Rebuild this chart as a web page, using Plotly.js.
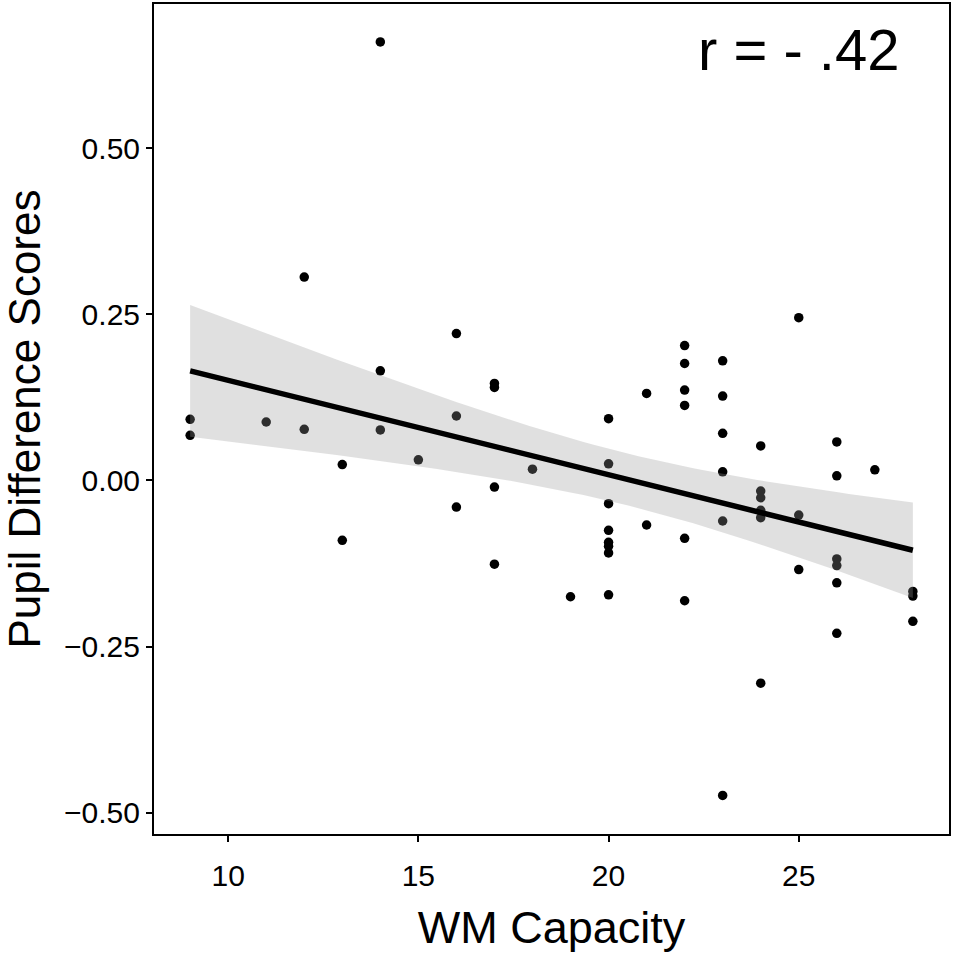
<!DOCTYPE html>
<html>
<head>
<meta charset="utf-8">
<script src="https://cdn.plot.ly/plotly-3.0.1.min.js"></script>
<style>
  html, body { margin: 0; padding: 0; background: #fff; }
  #chart { width: 954px; height: 958px; }
</style>
</head>
<body>
<div id="chart"></div>
<script>

// Working memory capacity of each participant
const wmCapacity = [
    9, 9,
    11,
    12, 12,
    13, 13,
    14, 14, 14,
    15,
    16, 16, 16,
    17, 17, 17, 17,
    18,
    19,
    20, 20, 20, 20, 20, 20, 20, 20,
    21, 21,
    22, 22, 22, 22, 22, 22,
    23, 23, 23, 23, 23, 23,
    24, 24, 24, 24, 24, 24,
    25, 25, 25,
    26, 26, 26, 26, 26, 26,
    27,
    28, 28, 28
];

// Pupil difference score of each participant (same order)
const pupilDiff = [
    0.092, 0.068,
    0.088,
    0.306, 0.077,
    0.024, -0.090,
    0.660, 0.165, 0.076,
    0.031,
    0.221, 0.097, -0.040,
    0.146, 0.140, -0.010, -0.126,
    0.017,
    -0.175,
    0.093, 0.025, -0.035, -0.075, -0.093, -0.099, -0.109, -0.172,
    0.131, -0.067,
    0.203, 0.176, 0.136, 0.113, -0.087, -0.181,
    0.180, 0.127, 0.071, 0.013, -0.061, -0.474,
    0.052, -0.016, -0.026, -0.045, -0.056, -0.305,
    0.245, -0.052, -0.134,
    0.058, 0.007, -0.118, -0.128, -0.154, -0.230,
    0.016,
    -0.167, -0.174, -0.212
];

const xTicks = [10, 15, 20, 25];
const yTicks = [-0.50, -0.25, 0.00, 0.25, 0.50];
const yTickText = ["\u22120.50", "\u22120.25", "0.00", "0.25", "0.50"];

const T_CRIT = 2.001;   // t(0.975, df = 59)
const N_FIT = 80;

// Least squares fit + 95% confidence band, like geom_smooth(method = "lm")
const n = wmCapacity.length;
let mx = 0, my = 0;
for (let i = 0; i < n; i++) { mx += wmCapacity[i]; my += pupilDiff[i]; }
mx /= n; my /= n;

let sxx = 0, sxy = 0;
for (let i = 0; i < n; i++) {
    sxx += (wmCapacity[i] - mx) * (wmCapacity[i] - mx);
    sxy += (wmCapacity[i] - mx) * (pupilDiff[i] - my);
}
const slope = sxy / sxx;
const intercept = my - slope * mx;

let sse = 0;
for (let i = 0; i < n; i++) {
    const r = pupilDiff[i] - (intercept + slope * wmCapacity[i]);
    sse += r * r;
}
const sigma = Math.sqrt(sse / (n - 2));

const xMin = Math.min(...wmCapacity);
const xMax = Math.max(...wmCapacity);
var fitX = [], fitY = [], lowY = [], highY = [];
for (let k = 0; k < N_FIT; k++) {
    const x0 = xMin + (xMax - xMin) * k / (N_FIT - 1);
    const y0 = intercept + slope * x0;
    const se = sigma * Math.sqrt(1 / n + (x0 - mx) * (x0 - mx) / sxx);
    fitX.push(x0);
    fitY.push(y0);
    lowY.push(y0 - T_CRIT * se);
    highY.push(y0 + T_CRIT * se);
}

const FONT = '"Liberation Sans", Arial, sans-serif';

var points = {
    x: wmCapacity,
    y: pupilDiff,
    type: 'scatter',
    mode: 'markers',
    marker: { color: '#000000', size: 9.5, line: { width: 0 } },
    hoverinfo: 'x+y'
};

var bandLow = {
    x: fitX,
    y: lowY,
    type: 'scatter',
    mode: 'lines',
    line: { width: 0, color: 'rgba(0,0,0,0)' },
    hoverinfo: 'skip'
};

var bandHigh = {
    x: fitX,
    y: highY,
    type: 'scatter',
    mode: 'lines',
    fill: 'tonexty',
    fillcolor: 'rgba(153,153,153,0.3)',
    line: { width: 0, color: 'rgba(0,0,0,0)' },
    hoverinfo: 'skip'
};

var fitLine = {
    x: fitX,
    y: fitY,
    type: 'scatter',
    mode: 'lines',
    line: { color: '#000000', width: 5.5 },
    hoverinfo: 'skip'
};

var layout = {
    width: 954,
    height: 958,
    showlegend: false,
    paper_bgcolor: '#ffffff',
    plot_bgcolor: '#ffffff',
    margin: { l: 154, r: 5, t: 4, b: 124 },
    font: { family: FONT, color: '#000000' },
    xaxis: {
        range: [8.05, 28.95],
        tickvals: xTicks,
        ticks: 'outside',
        ticklen: 6,
        tickwidth: 2,
        tickcolor: '#000000',
        ticklabelstandoff: 8,
        tickfont: { family: FONT, size: 30, color: '#000000' },
        showgrid: false,
        zeroline: false,
        showline: true,
        mirror: true,
        linecolor: '#000000',
        linewidth: 2,
        title: { text: 'WM Capacity', font: { family: FONT, size: 45, color: '#000000' }, standoff: 20 }
    },
    yaxis: {
        range: [-0.532, 0.717],
        tickvals: yTicks,
        ticktext: yTickText,
        ticks: 'outside',
        ticklen: 6,
        tickwidth: 2,
        tickcolor: '#000000',
        tickfont: { family: FONT, size: 30, color: '#000000' },
        showgrid: false,
        zeroline: false,
        showline: true,
        mirror: true,
        linecolor: '#000000',
        linewidth: 2,
        title: { text: 'Pupil Difference Scores', font: { family: FONT, size: 44, color: '#000000' }, standoff: 20 }
    },
    annotations: [{
        x: 25,
        y: 0.648,
        xref: 'x',
        yref: 'y',
        text: 'r = - .42',
        showarrow: false,
        font: { family: FONT, size: 58, color: '#000000' }
    }]
};

Plotly.newPlot('chart', [points, bandLow, bandHigh, fitLine], layout, { displayModeBar: false, staticPlot: true });
</script>
</body>
</html>
